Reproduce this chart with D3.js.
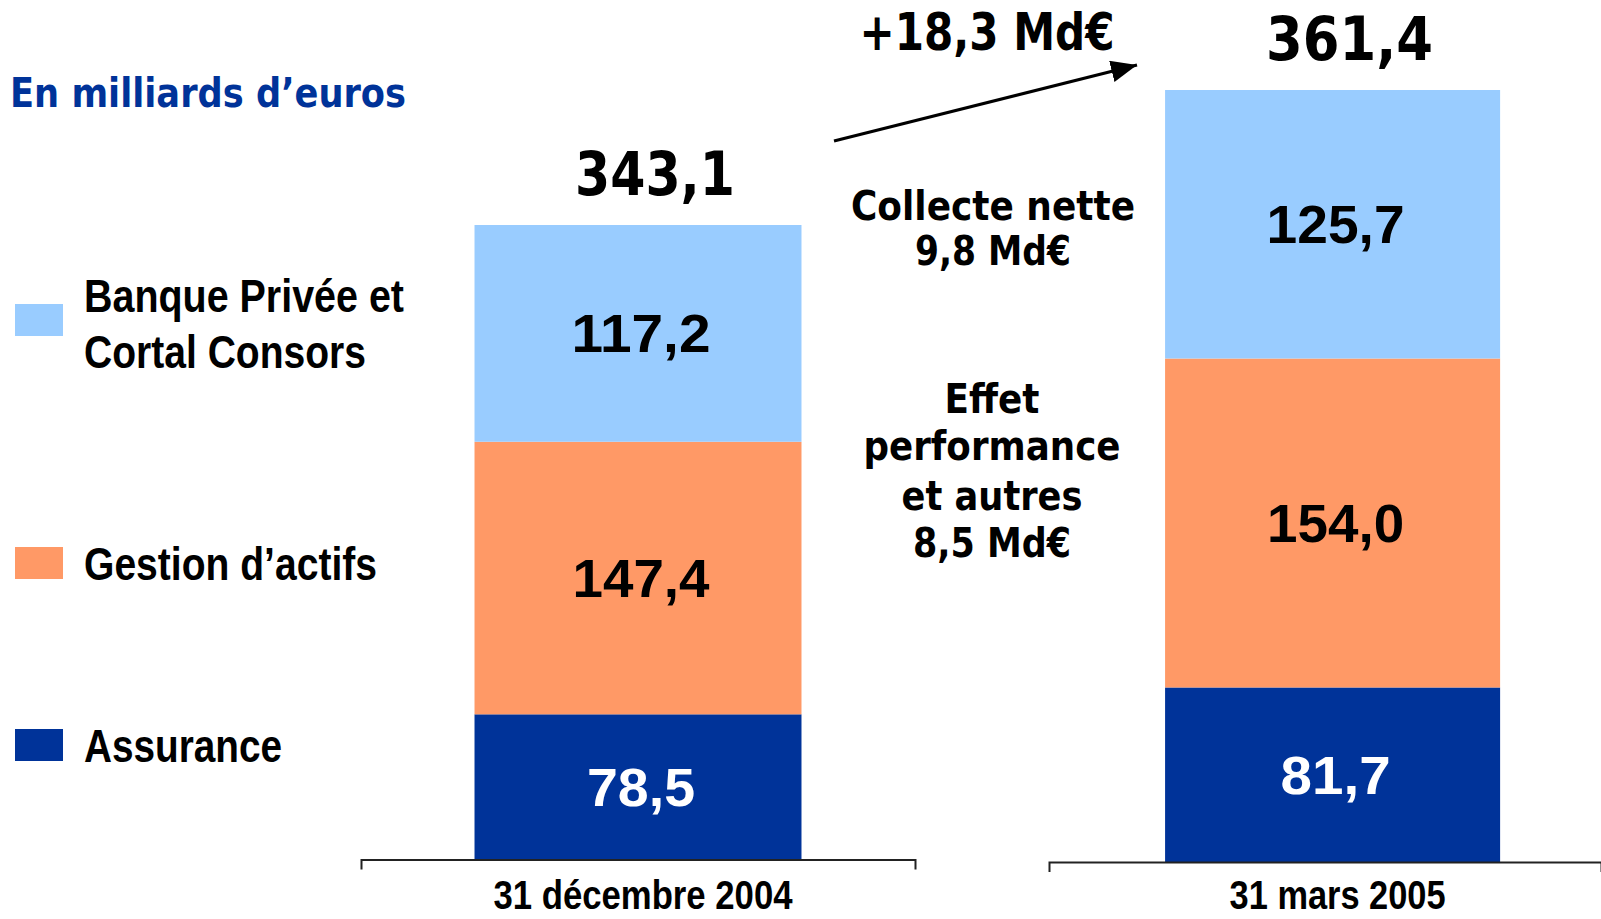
<!DOCTYPE html>
<html>
<head>
<meta charset="utf-8">
<title>Actifs sous gestion</title>
<style>
  body { margin: 0; background: #fff; }
  svg { display: block; background: #fff; }
  .humanist { font-family: "DejaVu Sans", Verdana, sans-serif; font-weight: bold; }
  .arial { font-family: "Liberation Sans", Arial, sans-serif; font-weight: bold; }
  .narrow { font-family: "Liberation Sans Narrow", "Arial Narrow", "Liberation Sans", sans-serif; font-weight: bold; }
</style>
</head>
<body>
<svg id="chart"></svg>
<script src="https://cdn.jsdelivr.net/npm/d3@7"></script>
<script>
// ---- data ----
var categories = ["31 décembre 2004", "31 mars 2005"];
var keys = ["assurance", "gestion", "banque"];
var legendLabels = [["Assurance"], ["Gestion d’actifs"], ["Banque Privée et", "Cortal Consors"]];
var assurance = [78.5, 81.7];
var gestion = [147.4, 154.0];
var banque = [117.2, 125.7];
var unitLabel = "En milliards d’euros";
var variation = "+18,3 Md€";
var collecte = ["Collecte nette", "9,8 Md€"];
var effet = ["Effet", "performance", "et autres", "8,5 Md€"];

// ---- layout ----
var W = 1601, H = 919;
var colors = {assurance: "#003399", gestion: "#FF9966", banque: "#99CCFF"};
var labelColors = {assurance: "#fff", gestion: "#000", banque: "#000"};

// each date is its own little chart in the original, with its own scale
var panels = [
  {axis: [361, 915], base: 859.5, top: 225, pad: 0.2577, align: 0.5},
  {axis: [1049, 1601], base: 862, top: 90, pad: 0.2446, align: 0.535}
];
var totalW = [160, 167];
var segW = [{assurance: 108, gestion: 137, banque: 139}, {assurance: 110, gestion: 137, banque: 138}];
var axisW = [299, 216];
var axisLabelY = [909, 909];
var legendTop = [729, 547, 304];
var legendBase = [[762], [580], [312, 368]];
var legendW = [[198], [293], [320, 282]];

var fmt = function(v) { return d3.format(".1f")(v).replace(".", ","); };

function fit(sel, w) {
  sel.attr("textLength", w).attr("lengthAdjust", "spacingAndGlyphs");
}

var svg = d3.select("#chart").attr("width", W).attr("height", H);

var rows = categories.map(function(c, i) {
  return {cat: c, assurance: assurance[i], gestion: gestion[i], banque: banque[i]};
});
var stacked = d3.stack().keys(keys)(rows);

panels.forEach(function(p, i) {
  var row = rows[i];
  var total = d3.sum(keys, function(k) { return row[k]; });

  var x = d3.scaleBand().domain([row.cat]).range(p.axis).padding(p.pad).align(p.align);
  var y = d3.scaleLinear().domain([0, total]).range([p.base, p.top]);
  var g = svg.append("g");
  var cx = x(row.cat) + x.bandwidth() / 2;

  stacked.forEach(function(s) {
    var d = s[i];
    g.append("rect")
      .attr("x", x(row.cat))
      .attr("y", y(d[1]))
      .attr("width", x.bandwidth())
      .attr("height", y(d[0]) - y(d[1]))
      .attr("fill", colors[s.key]);

    g.append("text")
      .attr("class", "arial")
      .attr("x", cx + 3)
      .attr("y", (y(d[0]) + y(d[1])) / 2 + 19)
      .attr("text-anchor", "middle")
      .attr("font-size", 53)
      .attr("fill", labelColors[s.key])
      .text(fmt(d[1] - d[0]))
      .call(fit, segW[i][s.key]);
  });

  // total above the bar
  g.append("text")
    .attr("class", "humanist")
    .attr("x", cx + 17)
    .attr("y", y(total) - 30)
    .attr("text-anchor", "middle")
    .attr("font-size", 60)
    .text(fmt(total))
    .call(fit, totalW[i]);

  // axis
  var ax = g.append("g")
    .attr("transform", "translate(0," + p.base + ")")
    .call(d3.axisBottom(x).tickSizeInner(0).tickSizeOuter(10));
  ax.select(".domain").attr("stroke", "#222").attr("stroke-width", 2);
  ax.selectAll(".tick text")
    .attr("class", "narrow")
    .attr("y", axisLabelY[i] - p.base).attr("dy", 0)
    .attr("dx", 5)
    .attr("font-size", 41)
    .attr("fill", "#000")
    .call(fit, axisW[i]);
});

// unit label
svg.append("text")
  .attr("class", "humanist")
  .attr("x", 10).attr("y", 107)
  .attr("font-size", 41)
  .attr("fill", "#003399")
  .text(unitLabel)
  .call(fit, 396);

// legend
var leg = svg.append("g");
keys.forEach(function(k, i) {
  leg.append("rect")
    .attr("x", 15).attr("y", legendTop[i])
    .attr("width", 48).attr("height", 32)
    .attr("fill", colors[k]);
  legendLabels[i].forEach(function(line, j) {
    leg.append("text")
      .attr("class", "narrow")
      .attr("x", 84).attr("y", legendBase[i][j])
      .attr("font-size", 46)
      .text(line)
      .call(fit, legendW[i][j]);
  });
});

// variation arrow
var defs = svg.append("defs");
defs.append("marker")
  .attr("id", "head")
  .attr("markerUnits", "userSpaceOnUse")
  .attr("viewBox", "0 0 26 22")
  .attr("markerWidth", 26).attr("markerHeight", 22)
  .attr("refX", 26).attr("refY", 11)
  .attr("orient", "auto")
  .append("path").attr("d", "M0,0L26,11L0,22Z").attr("fill", "#000");

svg.append("line")
  .attr("x1", 834).attr("y1", 141)
  .attr("x2", 1137).attr("y2", 65)
  .attr("stroke", "#000").attr("stroke-width", 3)
  .attr("marker-end", "url(#head)");

svg.append("text")
  .attr("class", "humanist")
  .attr("x", 987).attr("y", 50)
  .attr("text-anchor", "middle")
  .attr("font-size", 51)
  .text(variation)
  .call(fit, 255);

// annotations between the bars
var collecteW = [284, 156], collecteY = [220, 265];
collecte.forEach(function(t, i) {
  svg.append("text")
    .attr("class", "humanist")
    .attr("x", 993).attr("y", collecteY[i])
    .attr("text-anchor", "middle")
    .attr("font-size", 41)
    .text(t)
    .call(fit, collecteW[i]);
});

var effetW = [95, 257, 181, 158], effetY = [413, 460, 510, 557];
effet.forEach(function(t, i) {
  svg.append("text")
    .attr("class", "humanist")
    .attr("x", 992).attr("y", effetY[i])
    .attr("text-anchor", "middle")
    .attr("font-size", 41)
    .text(t)
    .call(fit, effetW[i]);
});
</script>
</body>
</html>
